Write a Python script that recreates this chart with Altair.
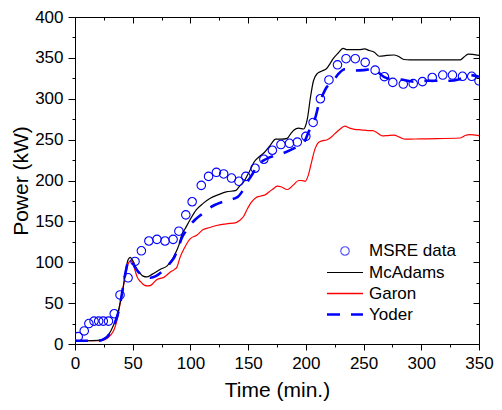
import altair as alt
import pandas as pd

# ---------------- data ----------------
msre_t = [2.8, 8, 12, 16.5, 20.5, 24.5, 29, 34, 39, 46, 52, 57.5, 64, 71, 78, 85, 90, 96,
          101.5, 109.4, 115.7, 122.5, 128.8, 135.6, 142, 148, 156, 163.6, 171, 178.4,
          185.8, 192.6, 200, 206.3, 212.6, 220, 227.4, 234.8, 242.8, 251.4, 260, 268,
          275.3, 284.4, 293, 301, 309.5, 318.6, 327, 335.7, 343.7, 350]
msre_p = [9, 16, 25, 28, 28, 28, 28, 37, 60, 81, 101, 114, 126, 128, 126, 128, 138, 158,
          174, 194, 205, 210, 208, 203, 199, 205, 215, 226, 237, 244,
          245.5, 247, 254, 271, 300, 323, 341.5, 349, 349, 344.5, 335, 327,
          320, 318, 318.5, 321, 326, 329, 329, 327.5, 327.5, 322]

mcadams_t = [0, 10, 20, 25, 28, 31, 34, 37, 39.5, 41.3, 44, 46, 47.9, 50, 53, 56, 59, 62,
             67, 74, 79.8, 84, 87, 90, 92.6, 95.4, 99.7, 105, 111, 116.8, 125, 131, 139.6,
             142.5, 145.4, 149.6, 152.5, 155.3, 159.6, 163.8, 169.6, 173.8, 179, 183.8,
             186.5, 189.5, 193.8, 198, 200, 201.5, 203.8, 206.6, 210, 214, 218, 221, 223.7,
             228, 232.2, 236, 241, 246, 250.8, 255, 259.3, 263.6, 270, 276.4, 280, 285,
             290, 333.5, 337, 340.6, 350]
mcadams_p = [4, 4, 4.5, 6, 9, 16, 25, 37, 53, 65, 91, 103, 106, 102, 93, 87, 83, 82,
             85.5, 91.5, 95.5, 103, 111, 121, 134, 141, 152, 164, 172, 178, 183, 186, 188,
             193, 197, 207, 215, 223, 229, 234, 244, 250.5, 250.5, 251.5,
             256.5, 261.5, 264, 263, 268, 277, 300, 322, 331, 334, 337, 343, 349,
             356, 361.5, 360, 360, 360, 361, 359, 357, 352, 353, 353.5, 352, 348,
             347.5, 347.5, 351, 354.5, 353]

garon_t = [0, 10, 20, 25, 28, 31, 34, 37, 40, 44, 46, 48.4, 50, 52, 54, 57, 60, 63, 66, 71,
           77, 82.6, 86, 88.3, 91, 95, 98.3, 100, 105.4, 111, 116.8, 122.5, 131, 139.6,
           142.5, 146, 149.6, 152.5, 156.7, 161, 165.3, 168, 171, 175.3, 179, 183.8, 186.5,
           189.5, 193.8, 196, 199.5, 202, 205.2, 208, 210.9, 214, 218, 221, 225, 229, 233.7,
           238, 242.2, 248, 253.6, 258, 262, 266.4, 271, 276.4, 281, 286.4, 300, 333.5,
           338, 342, 350]
garon_p = [4, 4, 4, 5, 7, 11, 18, 33, 57, 85.5, 98, 102, 99, 90, 81.5, 76, 72, 71, 72, 79,
           81.5, 88, 91, 94, 106, 118, 126, 129, 133, 140, 142.5, 145, 147, 148.5,
           151, 156, 166, 173, 179, 181, 183, 186, 189, 193, 192, 189, 191,
           195, 200, 200, 199, 206, 224, 239, 246.5, 248.5, 249.5, 252, 257, 262, 266.5,
           264, 262.5, 262, 261, 261, 258, 254.5, 255, 255.5, 253, 250.5, 251, 252,
           255, 256, 255]

yoder_t = [0, 10, 20, 25, 28, 31, 34, 37, 40, 42, 44, 46, 47.5, 49.5, 52, 55, 58, 62, 65.5,
           70, 75, 82.6, 86, 89, 92.6, 96, 100, 104, 110, 115, 121, 130, 141, 145, 149.6,
           152.5, 158, 165.3, 172, 182.4, 190, 198, 202, 205, 208, 211, 213.8, 218, 223.7,
           228, 233.7, 238, 242.2, 250, 259.3, 263, 268, 275, 282, 293.5, 305, 325, 333,
           342, 350]
yoder_p = [4, 4, 4, 6, 9, 15, 24, 36, 56, 73, 89, 101, 104, 101, 94, 88, 84, 82, 81,
           83, 88, 99.5, 106, 116, 130, 138, 146, 152, 159, 165, 170, 175, 180, 187, 199,
           205, 218, 226, 230, 234.5, 239.5, 246, 258, 268, 276, 292, 302, 314, 322,
           330, 336, 335.5, 334.5, 335, 336.5, 332, 326.5, 324, 323.5, 321, 322, 322, 324,
           329, 327]

legend_labels = ["MSRE data", "McAdams", "Garon", "Yoder"]

x_major = [0, 50, 100, 150, 200, 250, 300, 350]
x_minor = [25, 75, 125, 175, 225, 275, 325]
y_major = [0, 50, 100, 150, 200, 250, 300, 350, 400]
y_minor = [25, 75, 125, 175, 225, 275, 325, 375]

# ---------------- styling ----------------
FONT = "Liberation Sans"
BLUE = "#0000FF"
RED = "#FF0000"
X_SCALE = alt.Scale(domain=[0, 350], nice=False, zero=False)
Y_SCALE = alt.Scale(domain=[0, 400], nice=False, zero=False)

msre_df = pd.DataFrame({"t": msre_t, "p": msre_p})
mc_df = pd.DataFrame({"t": mcadams_t, "p": mcadams_p})
ga_df = pd.DataFrame({"t": garon_t, "p": garon_p})
yo_df = pd.DataFrame({"t": yoder_t, "p": yoder_p})
axis_df = pd.DataFrame({"t": [0, 350], "p": [0, 400]})
one_df = pd.DataFrame({"d": [0]})


def enc(chart):
    return chart.encode(
        x=alt.X("t:Q", scale=X_SCALE, axis=None),
        y=alt.Y("p:Q", scale=Y_SCALE, axis=None),
    )


mc_line = enc(alt.Chart(mc_df).mark_line(color="black", strokeWidth=1.2, interpolate="monotone"))
ga_line = enc(alt.Chart(ga_df).mark_line(color=RED, strokeWidth=1.2, interpolate="monotone"))
yo_line = enc(alt.Chart(yo_df).mark_line(color=BLUE, strokeWidth=2.6, strokeDash=[13, 11],
                                          interpolate="monotone"))
points = enc(alt.Chart(msre_df).mark_point(shape="circle", filled=False, color=BLUE, size=72,
                                            strokeWidth=1.1, opacity=1, clip=True))


def axis_layer(xaxis, yaxis):
    return alt.Chart(axis_df).mark_point(opacity=0).encode(
        x=alt.X("t:Q", scale=X_SCALE, axis=xaxis),
        y=alt.Y("p:Q", scale=Y_SCALE, axis=yaxis),
    )


common = dict(domain=False, grid=False, tickColor="black", tickWidth=1)

bottom_major = alt.Axis(orient="bottom", values=x_major, tickSize=6, labelFontSize=17,
                        labelFont=FONT, labelColor="black", labelPadding=5, labelFlush=False,
                        labelOverlap=False, title="Time (min.)", titleFont=FONT,
                        titleFontSize=21, titleFontWeight="normal", titleColor="black",
                        titlePadding=8, format="d", **common)
bottom_minor = alt.Axis(orient="bottom", values=x_minor, tickSize=3, labels=False, title=None,
                        **common)
top_major = alt.Axis(orient="top", values=x_major, tickSize=6, offset=-6, labels=False,
                     title=None, **common)
top_minor = alt.Axis(orient="top", values=x_minor, tickSize=3, offset=-3, labels=False,
                     title=None, **common)
left_major = alt.Axis(orient="left", values=y_major, tickSize=7, labelFontSize=17,
                      labelFont=FONT, labelColor="black", labelPadding=5, labelFlush=False,
                      labelOverlap=False, title="Power (kW)", titleFont=FONT,
                      titleFontSize=21, titleFontWeight="normal", titleColor="black",
                      titlePadding=3, format="d", **common)
left_minor = alt.Axis(orient="left", values=y_minor, tickSize=3, labels=False, title=None,
                      **common)
right_major = alt.Axis(orient="right", values=y_major, tickSize=6, offset=-6, labels=False,
                       title=None, **common)
right_minor = alt.Axis(orient="right", values=y_minor, tickSize=3, offset=-3, labels=False,
                       title=None, **common)

axes = [
    axis_layer(bottom_major, left_major),
    axis_layer(bottom_minor, left_minor),
    axis_layer(top_major, right_major),
    axis_layer(top_minor, right_minor),
]

# ---------------- legend (inside plot, lower right) ----------------
LX_SYM0, LX_SYM1, LX_TEXT = 252, 288, 294
LY = [234, 255.5, 276.5, 297.5]

leg_circle = alt.Chart(one_df).mark_point(shape="circle", filled=False, color=BLUE, size=72,
                                          strokeWidth=1.1).encode(
    x=alt.value((LX_SYM0 + LX_SYM1) / 2), y=alt.value(LY[0]))
leg_mc = alt.Chart(one_df).mark_rule(color="black", strokeWidth=1.2).encode(
    x=alt.value(LX_SYM0), x2=alt.value(LX_SYM1), y=alt.value(LY[1]))
leg_ga = alt.Chart(one_df).mark_rule(color=RED, strokeWidth=1.3).encode(
    x=alt.value(LX_SYM0), x2=alt.value(LX_SYM1), y=alt.value(LY[2]))
leg_yo = alt.Chart(one_df).mark_rule(color=BLUE, strokeWidth=2.6, strokeDash=[13, 11]).encode(
    x=alt.value(LX_SYM0), x2=alt.value(LX_SYM1), y=alt.value(LY[3]))
leg_texts = [
    alt.Chart(one_df).mark_text(align="left", baseline="middle", font=FONT, fontSize=17,
                                color="black").encode(
        x=alt.value(LX_TEXT), y=alt.value(LY[i]), text=alt.value(lab))
    for i, lab in enumerate(legend_labels)
]

chart = alt.layer(
    *axes, ga_line, mc_line, yo_line, points,
    leg_circle, leg_mc, leg_ga, leg_yo, *leg_texts,
).resolve_axis(
    x="independent", y="independent"
).properties(
    width=404, height=327,
    autosize=alt.AutoSizeParams(type="none"),
    padding={"left": 67, "top": 9, "right": 15, "bottom": 58},
    background="white",
).configure_view(
    stroke="black", strokeWidth=1
)

chart.save("out.html", embed_options={"renderer": "svg", "actions": False})
